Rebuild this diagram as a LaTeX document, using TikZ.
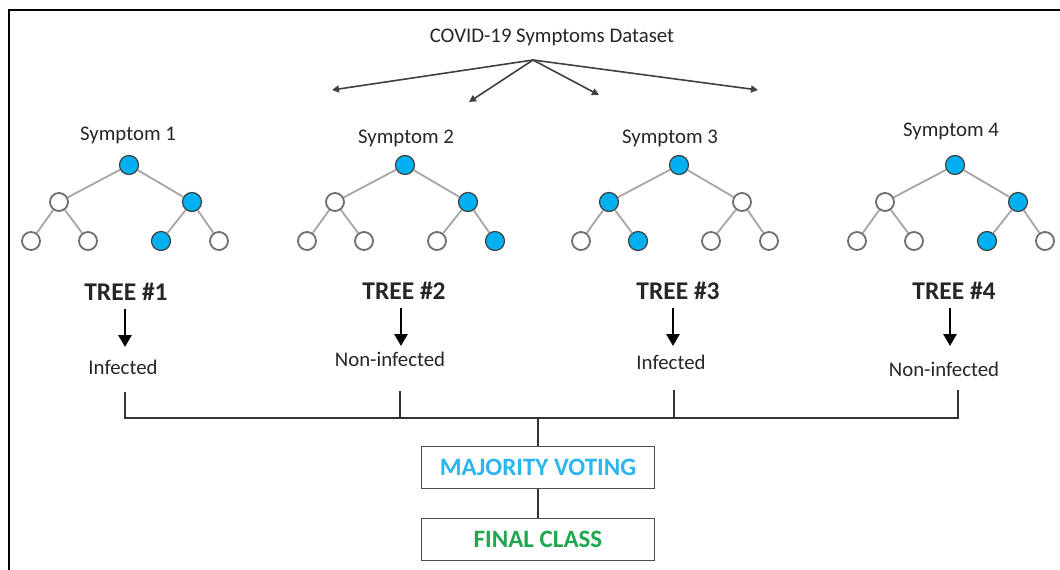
\documentclass[tikz,border=0pt]{standalone}
\usepackage{fontspec}
\setmainfont{Carlito}
\usetikzlibrary{arrows.meta}
\definecolor{cyanfill}{HTML}{00B0F0}
\definecolor{edgegray}{HTML}{A6A6A6}
\definecolor{ringgray}{HTML}{6E6E6E}
\definecolor{mvblue}{HTML}{2CB5F0}
\definecolor{fcgreen}{HTML}{1FA84F}
\tikzset{
  full/.style={circle,draw=black!75,line width=1.2pt,fill=cyanfill,minimum size=19pt,inner sep=0pt},
  empty/.style={circle,draw=ringgray,line width=1.8pt,fill=white,minimum size=18pt,inner sep=0pt},
  tedge/.style={draw=edgegray,line width=1.8pt},
  lbl/.style={font=\fontsize{20.8}{22}\selectfont,inner sep=0pt,text=black!85},
  treelbl/.style={font=\fontsize{25.5}{27}\selectfont\bfseries,inner sep=0pt,text=black!85},
  downarr/.style={line width=2.8pt,-{Triangle[length=12pt,width=13pt]}},
  toparr/.style={draw=black!75,line width=1.6pt,-{Triangle[length=7pt,width=7pt]}},
  bracket/.style={line width=2pt,draw=black!80},
  resbox/.style={draw=black!70,line width=1.6pt,minimum width=233pt,minimum height=42pt,inner sep=0pt,font=\fontsize{25}{27}\selectfont\bfseries},
}
\newcommand\mytree[8]{%
  \node[full] (#1r) at (#2,165) {};
  \node[#3] (#1a) at (#2-70,202) {};
  \node[#4] (#1b) at (#2+63,202) {};
  \node[#5] (#1aa) at (#2-98,241) {};
  \node[#6] (#1ab) at (#2-41,241) {};
  \node[#7] (#1ba) at (#2+32,241) {};
  \node[#8] (#1bb) at (#2+90,241) {};
  \draw[tedge] (#1r) -- (#1a);
  \draw[tedge] (#1r) -- (#1b);
  \draw[tedge] (#1a) -- (#1aa);
  \draw[tedge] (#1a) -- (#1ab);
  \draw[tedge] (#1b) -- (#1ba);
  \draw[tedge] (#1b) -- (#1bb);
}
\begin{document}
\begin{tikzpicture}[x=1pt,y=-1pt]
\useasboundingbox (0,0) rectangle (1060,570);
\fill[white] (0,0) rectangle (1060,570);
% frame
\draw[line width=2pt] (9,572) -- (9,10) -- (1062,10);
% title and top arrows
\node[lbl] (title) at (552,37) {COVID-19 Symptoms Dataset};
\coordinate (src) at (533,60);
\coordinate (d1) at (332,90);
\coordinate (d2) at (469,102);
\coordinate (d3) at (599,95);
\coordinate (d4) at (758,90);
\foreach \d in {d1,d2,d3,d4} \draw[toparr] (src) -- (\d);
% symptom labels
\node[lbl] (s1) at (128,135) {Symptom 1};
\node[lbl] (s2) at (406,138) {Symptom 2};
\node[lbl] (s3) at (670,138) {Symptom 3};
\node[lbl] (s4) at (951,131) {Symptom 4};
% trees
\mytree{ta}{129}{empty}{full}{empty}{empty}{full}{empty}
\mytree{tb}{405}{empty}{full}{empty}{empty}{empty}{full}
\mytree{tc}{679}{full}{empty}{empty}{full}{empty}{empty}
\mytree{td}{955}{empty}{full}{empty}{empty}{full}{empty}
% tree labels
\node[treelbl] (t1) at (126,292) {TREE \#1};
\node[treelbl] (t2) at (404,291) {TREE \#2};
\node[treelbl] (t3) at (678,291) {TREE \#3};
\node[treelbl] (t4) at (954,291) {TREE \#4};
% down arrows
\coordinate (a1s) at (125,309); \coordinate (a1e) at (125,347);
\coordinate (a2s) at (401,308); \coordinate (a2e) at (401,346);
\coordinate (a3s) at (673,308); \coordinate (a3e) at (673,346);
\coordinate (a4s) at (950,308); \coordinate (a4e) at (950,346);
\draw[downarr] (a1s) -- (a1e);
\draw[downarr] (a2s) -- (a2e);
\draw[downarr] (a3s) -- (a3e);
\draw[downarr] (a4s) -- (a4e);
% results
\node[lbl] (r1) at (123,367) {Infected};
\node[lbl] (r2) at (390,359) {Non-infected};
\node[lbl] (r3) at (671,362) {Infected};
\node[lbl] (r4) at (944,369) {Non-infected};
% bracket
\coordinate (b1) at (125,392); \coordinate (h1) at (125,418);
\coordinate (b2) at (400,391); \coordinate (h2) at (400,418);
\coordinate (b3) at (674,390); \coordinate (h3) at (674,418);
\coordinate (b4) at (958,390); \coordinate (h4) at (958,418);
\coordinate (hc) at (538,418);
\draw[bracket] (b1) -- (h1) -- (h4) -- (b4);
\draw[bracket] (b2) -- (h2);
\draw[bracket] (b3) -- (h3);
% boxes
\node[resbox,text=mvblue] (mv) at (538,467.5) {MAJORITY VOTING};
\node[resbox,text=fcgreen] (fc) at (538,539.5) {FINAL CLASS};
\draw[bracket] (hc) -- (hc|-mv.north);
\draw[bracket] (mv.south) -- (fc.north);
\end{tikzpicture}
\end{document}
